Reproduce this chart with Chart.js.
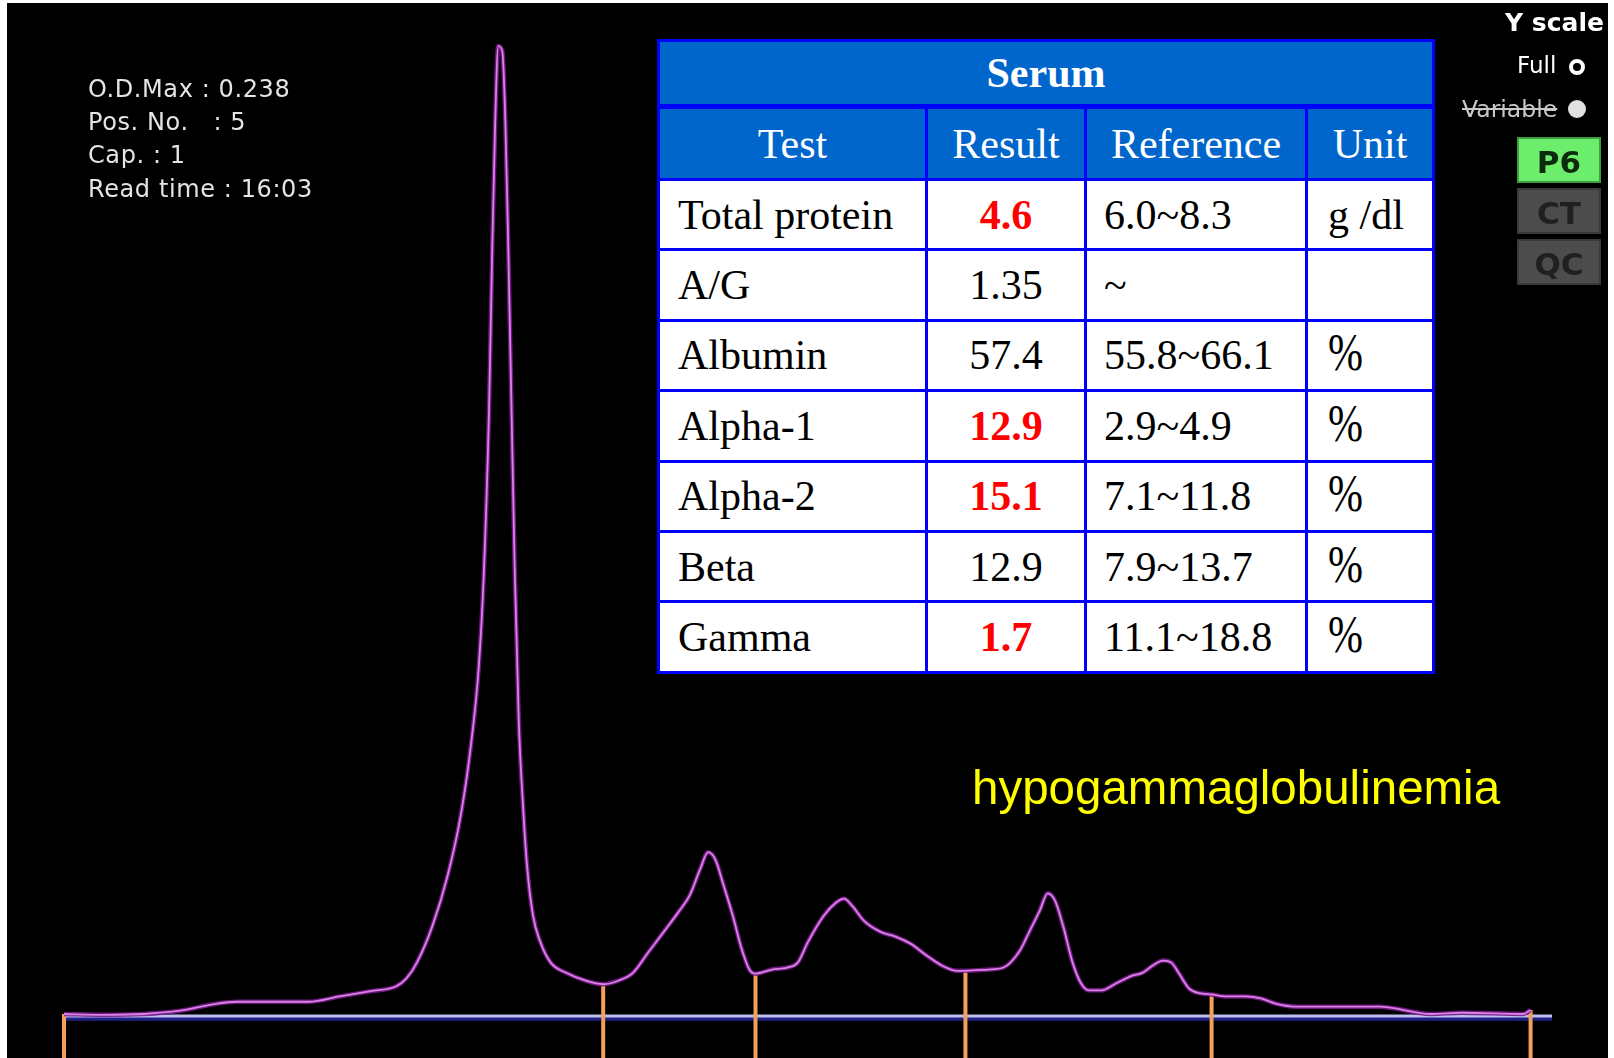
<!DOCTYPE html>
<html>
<head>
  <title>Serum protein electrophoresis</title>
  <script src="https://cdn.jsdelivr.net/npm/chart.js"></script>
  <style>
    body { margin: 0; background: #fff; width: 1614px; height: 1058px; overflow: hidden; position: relative; }
    #screen { position: absolute; left: 7px; top: 3px; width: 1601px; height: 1055px; background: #000; }
    #scan { position: absolute; left: 0; top: 0; }
    .info { position: absolute; left: 88px; font-family: "DejaVu Sans"; font-size: 24px; letter-spacing: 0.6px; line-height: 24px; color: #e4e4e4; white-space: pre; }
    #serum { position: absolute; left: 657px; top: 39px; width: 775px; border-collapse: collapse; table-layout: fixed; font-family: "Liberation Serif", "Times New Roman", serif; font-size: 42px; background: #fff; }
    #serum td, #serum th { border: 3px solid #0000ff; padding: 0; height: 67.4px; white-space: nowrap; overflow: hidden; }
    #serum th { background: #0066cc; color: #fff; font-weight: normal; text-align: center; }
    #serum tr.title th { font-weight: bold; height: 62px; border-bottom-width: 5px; }
    #serum tr.head th { height: 69px; }
    #serum td.name { text-align: left; padding-left: 18px; }
    #serum td.res { text-align: center; }
    #serum td.res.high { color: #ff0000; font-weight: bold; }
    #serum td.ref { text-align: left; padding-left: 17px; }
    #serum td.unit { text-align: left; padding-left: 20px; }
    .pct { display: inline-block; transform: scaleY(1.28); transform-origin: 50% 70%; }
    .side { position: absolute; font-family: "DejaVu Sans"; white-space: nowrap; }
    .btn { position: absolute; left: 1517px; width: 84px; height: 46px; font-family: "DejaVu Sans"; font-weight: bold; font-size: 31px; line-height: 46px; text-align: center; box-sizing: border-box; }
    #diag { position: absolute; left: 972px; top: 764px; font-family: "Liberation Sans", Arial, sans-serif; font-size: 47.5px; line-height: 47.5px; color: #ffff00; white-space: nowrap; }
  </style>
</head>
<body>
  <div id="screen"></div>
  <canvas id="scan" width="1614" height="1058"></canvas>

  <div class="info" style="top:77px">O.D.Max : 0.238</div>
  <div class="info" style="top:110px">Pos. No.   : 5</div>
  <div class="info" style="top:143px">Cap. : 1</div>
  <div class="info" style="top:177px">Read time : 16:03</div>

  <table id="serum">
    <colgroup><col style="width:268px"><col style="width:159px"><col style="width:221px"><col style="width:127px"></colgroup>
    <tbody id="serumBody"></tbody>
  </table>

  <div class="side" style="left:1505px; top:8px; font-size:25px; font-weight:bold; color:#fff;">Y scale</div>
  <div class="side" style="left:1517px; top:52px; font-size:23px; color:#fff;">Full</div>
  <div class="side" style="left:1569px; top:59px; width:8px; height:8px; border:4px solid #fff; border-radius:50%;"></div>
  <div class="side" style="left:1462px; top:95px; font-size:23.5px; color:#c8c8c8; text-decoration:line-through;">Variable</div>
  <div class="side" style="left:1568px; top:100px; width:18px; height:18px; background:#e2e2e2; border-radius:50%;"></div>
  <div class="btn" style="top:137px; background:#6cee6c; color:#0c2a0c; border:2px solid #3f9f3f;">P6</div>
  <div class="btn" style="top:188px; background:#4c4c4c; color:#202020; border:2px solid #3a3a3a;">CT</div>
  <div class="btn" style="top:239px; background:#4c4c4c; color:#202020; border:2px solid #3a3a3a;">QC</div>

  <div id="diag">hypogammaglobulinemia</div>

  <script>
    // Densitometer scan (position 0 = first fraction mark, 1000 = last)
    var scanPos = [0, 26.5, 54.6, 79.2, 103.8, 117.8, 167.0, 188.0, 209.1, 226.7,
      233.7, 240.7, 251.2, 261.8, 270.9, 277.9, 282.8, 286.3, 289.9, 292.0,
      294.1, 296.2, 299.0, 301.1, 303.2, 305.3, 307.4, 310.2, 313.0, 315.8,
      320.0, 324.9, 332.0, 342.5, 356.5, 367.8, 377.6, 388.1, 398.7, 409.2,
      419.7, 426.8, 433.8, 439.4, 444.3, 449.9, 456.3, 461.9, 467.5, 471.7,
      482.9, 493.5, 500.5, 507.5, 518.0, 526.5, 532.1, 537.7, 546.1, 556.7,
      567.2, 577.7, 588.2, 598.8, 609.3, 614.9, 630.4, 640.9, 651.4, 658.5,
      665.5, 671.1, 676.0, 681.6, 688.0, 693.6, 699.2, 707.6, 718.1, 728.7,
      735.7, 742.7, 749.7, 755.4, 760.3, 767.3, 774.3, 782.8, 791.9, 805.9,
      816.4, 827.0, 841.0, 897.2, 932.3, 953.4, 995.5, 1000.4];
    var scanOD = [0.0005, 0.0003, 0.0005, 0.0013, 0.0030, 0.0035, 0.0035, 0.0048, 0.0061, 0.0073,
      0.0093, 0.0131, 0.0220, 0.0346, 0.0498, 0.0674, 0.0851, 0.1079, 0.1483, 0.1862,
      0.2190, 0.2380, 0.2367, 0.2190, 0.1862, 0.1483, 0.1104, 0.0725, 0.0523, 0.0371,
      0.0245, 0.0182, 0.0131, 0.0106, 0.0086, 0.0078, 0.0086, 0.0106, 0.0157, 0.0207,
      0.0258, 0.0296, 0.0359, 0.0402, 0.0384, 0.0321, 0.0245, 0.0169, 0.0114, 0.0104,
      0.0114, 0.0119, 0.0131, 0.0182, 0.0245, 0.0278, 0.0288, 0.0270, 0.0232, 0.0207,
      0.0195, 0.0177, 0.0149, 0.0124, 0.0111, 0.0111, 0.0114, 0.0119, 0.0157, 0.0207,
      0.0258, 0.0301, 0.0283, 0.0220, 0.0131, 0.0081, 0.0063, 0.0063, 0.0081, 0.0099,
      0.0106, 0.0124, 0.0136, 0.0131, 0.0106, 0.0068, 0.0056, 0.0053, 0.0048, 0.0048,
      0.0043, 0.0030, 0.0023, 0.0023, 0.0005, 0.0008, 0.0005, 0.0015];

    // fraction separation marks
    var markPos = [0, 367.8, 471.7, 614.9, 782.8, 1000.4];
    var markOD = [0.0005, 0.0078, 0.0104, 0.0111, 0.0053, 0.0015];

    var baseLine = [0, 1015];

    // results table
    var tests = ["Total protein", "A/G", "Albumin", "Alpha-1", "Alpha-2", "Beta", "Gamma"];
    var results = ["4.6", "1.35", "57.4", "12.9", "15.1", "12.9", "1.7"];
    var abnormal = [true, false, false, true, true, false, true];
    var references = ["6.0~8.3", "~", "55.8~66.1", "2.9~4.9", "7.1~11.8", "7.9~13.7", "11.1~18.8"];
    var units = ["g /dl", "", "%", "%", "%", "%", "%"];

    var yMin = -0.0103, yMax = 0.2493;

    // build table
    var body = document.getElementById("serumBody");
    var html = '<tr class="title"><th colspan="4">Serum</th></tr>' +
      '<tr class="head"><th>Test</th><th>Result</th><th>Reference</th><th>Unit</th></tr>';
    for (var i = 0; i < tests.length; i++) {
      var u = units[i] == "%" ? '<span class="pct">%</span>' : units[i];
      html += '<tr><td class="name">' + tests[i] + '</td>' +
        '<td class="res' + (abnormal[i] ? ' high' : '') + '">' + results[i] + '</td>' +
        '<td class="ref">' + references[i] + '</td>' +
        '<td class="unit">' + u + '</td></tr>';
    }
    body.innerHTML = html;

    var curve = scanPos.map(function (p, i) { return { x: p, y: scanOD[i] }; });

    var datasets = [
      { data: curve, borderColor: '#d883e2', borderWidth: 1.8, cubicInterpolationMode: 'monotone' },
      { data: curve, borderColor: 'rgba(120, 25, 140, 0.9)', borderWidth: 4.5, cubicInterpolationMode: 'monotone' }
    ];
    for (var m = 0; m < markPos.length; m++) {
      datasets.push({
        data: [{ x: markPos[m], y: markOD[m] }, { x: markPos[m], y: yMin }],
        borderColor: '#f2a05a', borderWidth: 4
      });
    }
    datasets.push({
      data: [{ x: baseLine[0], y: 0 }, { x: baseLine[1], y: 0 }],
      borderColor: '#bcbfec', borderWidth: 2.8
    });
    datasets.push({
      data: [{ x: baseLine[0], y: -0.0006 }, { x: baseLine[1], y: -0.0006 }],
      borderColor: 'rgba(40, 40, 170, 0.8)', borderWidth: 4.5
    });

    new Chart(document.getElementById('scan'), {
      type: 'line',
      data: { datasets: datasets },
      options: {
        responsive: false,
        animation: false,
        events: [],
        layout: { padding: 0 },
        elements: { point: { radius: 0 }, line: { fill: false } },
        plugins: { legend: { display: false }, tooltip: { enabled: false } },
        scales: {
          x: { type: 'linear', min: -43.66, max: 1057.3, display: false },
          y: { type: 'linear', min: yMin, max: yMax, display: false }
        }
      }
    });
  </script>
</body>
</html>
